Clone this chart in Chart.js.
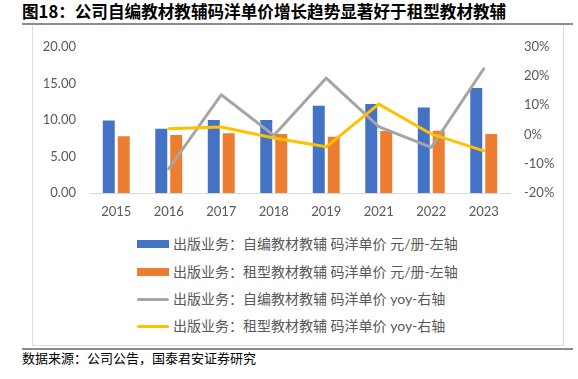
<!DOCTYPE html>
<html>
<head>
<meta charset="utf-8">
<script src="https://cdn.jsdelivr.net/npm/chart.js@4.4.1/dist/chart.umd.min.js"></script>
<style>
  body { margin: 0; background: #fff; width: 578px; height: 379px; position: relative; overflow: hidden;
         font-family: "Noto Sans CJK SC", sans-serif; }
  #title { position: absolute; left: 22px; top: 0; height: 22px; line-height: 22px;
           font-size: 16.6px; font-weight: bold; color: #000; white-space: nowrap; }
  .rule { position: absolute; left: 22px; width: 551px; height: 2px; background: #8c8c8c; }
  #frame { position: absolute; left: 32px; top: 25px; width: 530px; height: 320px;
           border: 1px solid #dcdcdc; border-top: none; }
  #wrap { position: absolute; left: 32px; top: 25px; width: 531px; height: 200px; }
  .row { position: absolute; left: 137px; height: 20px; line-height: 20px; display: flex; align-items: center;
         font-size: 14px; color: #595959; white-space: nowrap; }
  .row .sw { width: 32px; margin-right: 4px; }
  .row .txt { font-family: Lato, "Noto Sans CJK SC", sans-serif; }
  #source { position: absolute; left: 22px; top: 349px; height: 18px; line-height: 18px;
            font-size: 13px; color: #000; white-space: nowrap; }
</style>
</head>
<body>
<div id="title">图18：公司自编教材教辅码洋单价增长趋势显著好于租型教材教辅</div>
<div class="rule" style="top:23px"></div>
<div id="frame"></div>
<div id="wrap"><canvas id="chart" width="531" height="200"></canvas></div>
<div id="legend"></div>
<div class="rule" style="top:348px"></div>
<div id="source">数据来源：公司公告，国泰君安证券研究</div>

<script>
// categories
var years = ['2015', '2016', '2017', '2018', '2019', '2021', '2022', '2023'];

// unit price, yuan per copy (left axis)
var selfPrice = [9.93, 8.79, 9.98, 9.97, 11.92, 12.19, 11.70, 14.36];
var rentPrice = [7.77, 7.95, 8.17, 8.08, 7.68, 8.48, 8.53, 8.08];

// yoy growth in % (right axis)
var selfYoy = [null, -11.7, 13.6, -0.3, 19.3, 2.7, -4.4, 22.5];
var rentYoy = [null, 2.0, 2.6, -1.2, -4.2, 10.4, 0.2, -5.6];

// tick labels
var leftTicks = [0, 5, 10, 15, 20];
var rightTicks = [-20, -10, 0, 10, 20, 30];

var seriesNames = [
  '出版业务：自编教材教辅 码洋单价 元/册-左轴',
  '出版业务：租型教材教辅 码洋单价 元/册-左轴',
  '出版业务：自编教材教辅 码洋单价 yoy-右轴',
  '出版业务：租型教材教辅 码洋单价 yoy-右轴'
];

var tickFont = { family: 'Lato', size: 13 };
var tickColor = '#595959';

var chart = new Chart(document.getElementById('chart'), {
  type: 'bar',
  data: {
    labels: years,
    datasets: [
      { label: seriesNames[0], data: selfPrice, backgroundColor: '#4472C4', yAxisID: 'y',
        categoryPercentage: 0.57, barPercentage: 0.8, order: 3 },
      { label: seriesNames[1], data: rentPrice, backgroundColor: '#ED7D31', yAxisID: 'y',
        categoryPercentage: 0.57, barPercentage: 0.8, order: 3 },
      { type: 'line', label: seriesNames[2], data: selfYoy, borderColor: '#A5A5A5', backgroundColor: '#A5A5A5',
        borderWidth: 3, pointRadius: 0, tension: 0, borderCapStyle: 'round', borderJoinStyle: 'round',
        yAxisID: 'y1', order: 2 },
      { type: 'line', label: seriesNames[3], data: rentYoy, borderColor: '#FFC000', backgroundColor: '#FFC000',
        borderWidth: 3, pointRadius: 0, tension: 0, borderCapStyle: 'round', borderJoinStyle: 'round',
        yAxisID: 'y1', order: 1 }
    ]
  },
  options: {
    responsive: false,
    animation: false,
    layout: { padding: { top: 17, left: 0, right: 0, bottom: 0 } },
    plugins: { legend: { display: false }, tooltip: { enabled: false } },
    scales: {
      x: {
        grid: { display: false, drawTicks: false },
        border: { color: '#d9d9d9', width: 1 },
        ticks: { color: tickColor, font: tickFont, padding: 11 },
        afterFit: function (s) { s.height = 32; }
      },
      y: {
        position: 'left', min: leftTicks[0], max: leftTicks[leftTicks.length - 1],
        grid: { display: false, drawTicks: false },
        border: { display: false },
        afterBuildTicks: function (s) { s.ticks = leftTicks.map(function (v) { return { value: v }; }); },
        ticks: { color: tickColor, font: tickFont, padding: 14,
                 callback: function (v) { return Number(v).toFixed(2); } },
        afterFit: function (s) { s.width = 58; }
      },
      y1: {
        position: 'right', min: rightTicks[0], max: rightTicks[rightTicks.length - 1],
        grid: { display: false, drawTicks: false },
        border: { display: false },
        afterBuildTicks: function (s) { s.ticks = rightTicks.map(function (v) { return { value: v }; }); },
        ticks: { color: tickColor, font: tickFont, padding: 14,
                 callback: function (v) { return v + '%'; } },
        afterFit: function (s) { s.width = 53; }
      }
    }
  }
});

// legend rows, left aligned like the original
var legendTops = [234, 261.5, 289, 316];
var legend = document.getElementById('legend');
chart.data.datasets.forEach(function (ds, i) {
  var row = document.createElement('div');
  row.className = 'row';
  row.style.top = legendTops[i] + 'px';
  var sw = document.createElement('span');
  sw.className = 'sw';
  if (ds.type === 'line') {
    sw.style.height = '3px';
    sw.style.borderRadius = '2px';
  } else {
    sw.style.height = '8px';
  }
  sw.style.background = ds.type === 'line' ? ds.borderColor : ds.backgroundColor;
  var txt = document.createElement('span');
  txt.className = 'txt';
  txt.textContent = ds.label;
  row.appendChild(sw);
  row.appendChild(txt);
  legend.appendChild(row);
});
</script>
</body>
</html>
